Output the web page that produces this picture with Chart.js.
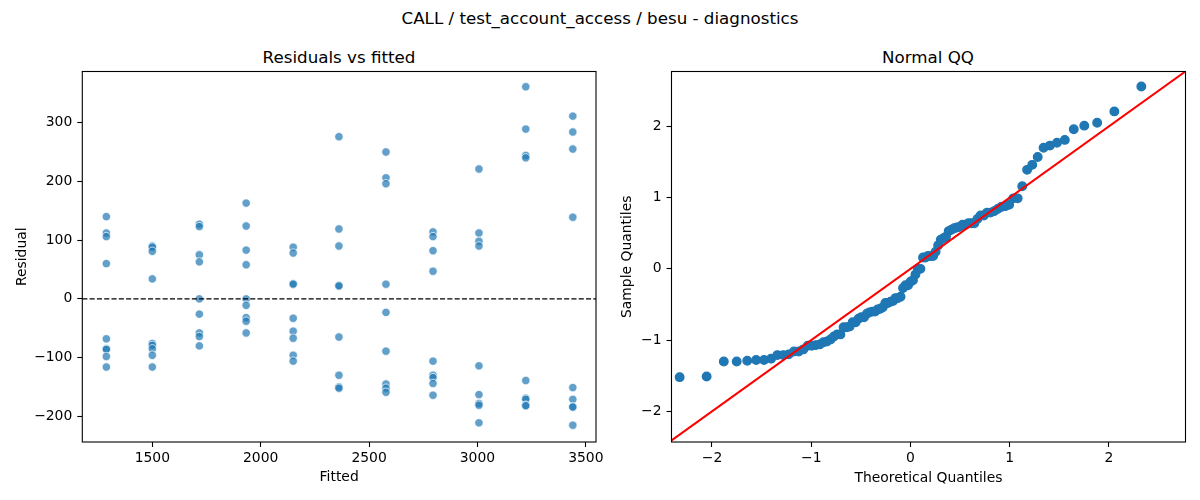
<!DOCTYPE html>
<html lang="en">
<head>
    <meta charset="UTF-8">
    <title>CALL / test_account_access / besu - diagnostics</title>
    <script src="https://cdn.jsdelivr.net/npm/chart.js"></script>
    <style>
        body {
            margin: 0;
            background: #fff;
            font-family: 'DejaVu Sans', sans-serif;
        }
        #wrap {
            position: relative;
            width: 1200px;
            height: 500px;
        }
        canvas {
            position: absolute;
            top: 0;
        }
        .title {
            position: absolute;
            font-size: 16.7px;
            line-height: 20px;
            white-space: nowrap;
            transform: translateX(-50%);
            color: #000;
        }
    </style>
</head>
<body>
<div id="wrap">
    <div class="title" style="left:600px; top:8px;">CALL / test_account_access / besu - diagnostics</div>
    <div class="title" style="left:339px; top:47px;">Residuals vs fitted</div>
    <div class="title" style="left:928px; top:47px;">Normal QQ</div>
    <canvas id="resid" width="640" height="500" style="left:0"></canvas>
    <canvas id="qq" width="600" height="500" style="left:600px"></canvas>
</div>

<script>
    // residuals vs fitted
    const fittedLevels = [1288, 1500, 1717, 1933, 2150, 2361, 2578, 2795, 3007, 3223, 3440];
    const residualsByLevel = [
        [140, 112, 106, 60, -68, -85, -86, -98, -116],
        [90, 88, 81, 34, -76, -79, -85, -96, -116],
        [127, 123, 75, 63, 0, -26, -58, -64, -80],
        [163, 124, 83, 58, 0, -11, -32, -38, -58],
        [88, 78, 26, 25, -33, -55, -67, -96, -106],
        [276, 119, 90, 23, 22, -65, -130, -150, -152],
        [250, 206, 196, 25, -23, -89, -145, -152, -159],
        [114, 106, 82, 47, -106, -130, -134, -144, -164],
        [221, 112, 98, 90, -114, -163, -178, -181, -211],
        [361, 289, 244, 240, -139, -169, -171, -181, -182],
        [311, 284, 255, 139, -151, -171, -184, -184, -215]
    ];
    const residTicksX = [1500, 2000, 2500, 3000, 3500];
    const residTicksY = [-200, -100, 0, 100, 200, 300];

    // normal QQ
    const theoreticalQ = [
        -2.326, -2.054, -1.881, -1.751, -1.645, -1.555, -1.476, -1.405, -1.341, -1.282,
        -1.227, -1.175, -1.126, -1.080, -1.036, -0.994, -0.954, -0.915, -0.878, -0.842,
        -0.806, -0.772, -0.739, -0.706, -0.674, -0.643, -0.613, -0.583, -0.553, -0.524,
        -0.496, -0.468, -0.440, -0.412, -0.385, -0.358, -0.332, -0.305, -0.279, -0.253,
        -0.228, -0.202, -0.176, -0.151, -0.126, -0.100, -0.075, -0.050, -0.025, 0.000,
        0.025, 0.050, 0.075, 0.100, 0.126, 0.151, 0.176, 0.202, 0.228, 0.253,
        0.279, 0.305, 0.332, 0.358, 0.385, 0.412, 0.440, 0.468, 0.496, 0.524,
        0.553, 0.583, 0.613, 0.643, 0.674, 0.706, 0.739, 0.772, 0.806, 0.842,
        0.878, 0.915, 0.954, 0.994, 1.036, 1.080, 1.126, 1.175, 1.227, 1.282,
        1.341, 1.405, 1.476, 1.555, 1.645, 1.751, 1.881, 2.054, 2.326
    ];
    const sampleQ = [
        -1.52, -1.51, -1.30, -1.30, -1.29, -1.28, -1.28, -1.26, -1.21, -1.21,
        -1.20, -1.16, -1.16, -1.13, -1.08, -1.08, -1.07, -1.06, -1.03, -1.02,
        -0.99, -0.95, -0.92, -0.92, -0.82, -0.82, -0.81, -0.75, -0.75, -0.70,
        -0.68, -0.68, -0.63, -0.61, -0.60, -0.60, -0.57, -0.56, -0.54, -0.48,
        -0.48, -0.46, -0.45, -0.41, -0.41, -0.39, -0.27, -0.23, -0.23, -0.18,
        -0.16, -0.08, 0.00, 0.00, 0.16, 0.16, 0.18, 0.18, 0.18, 0.24,
        0.33, 0.41, 0.43, 0.45, 0.53, 0.55, 0.57, 0.58, 0.59, 0.62,
        0.62, 0.64, 0.64, 0.64, 0.70, 0.75, 0.75, 0.79, 0.79, 0.81,
        0.84, 0.87, 0.88, 0.90, 0.99, 0.99, 1.16, 1.39, 1.46, 1.57,
        1.70, 1.73, 1.77, 1.81, 1.96, 2.01, 2.05, 2.21, 2.56
    ];
    const qqTicks = [-2, -1, 0, 1, 2];
    const refLine = [-3, 3];

    const FONT = 'DejaVu Sans';

    const residPoints = [];
    fittedLevels.forEach((f, i) => {
        residualsByLevel[i].forEach(r => residPoints.push({x: f, y: r}));
    });
    const qqPoints = theoreticalQ.map((t, i) => ({x: t, y: sampleQ[i]}));

    // matplotlib-style spines all round, plus optional dashed y=0 line
    const framePlugin = {
        id: 'frame',
        afterDatasetsDraw(chart, args, opts) {
            const {ctx, chartArea: a} = chart;
            ctx.save();
            ctx.strokeStyle = '#000';
            if (opts.zeroLine) {
                const y = chart.scales.y.getPixelForValue(0);
                ctx.setLineDash([5.1, 2.2]);
                ctx.lineWidth = 1.4;
                ctx.beginPath();
                ctx.moveTo(a.left, y);
                ctx.lineTo(a.right, y);
                ctx.stroke();
            }
            ctx.setLineDash([]);
            ctx.lineWidth = 1.1;
            ctx.strokeRect(a.left, a.top, a.right - a.left, a.bottom - a.top);
            ctx.restore();
        }
    };

    function makeAxis(horizontal, min, max, tickVals, size, label, titlePad) {
        return {
            type: 'linear',
            min: min,
            max: max,
            afterBuildTicks: s => { s.ticks = tickVals.map(v => ({value: v})); },
            afterFit: s => {
                if (horizontal) s.height = size; else s.width = size;
                s.paddingLeft = 0; s.paddingRight = 0;
                s.paddingTop = 0; s.paddingBottom = 0;
            },
            grid: {
                display: true,
                drawOnChartArea: false,
                drawTicks: true,
                tickLength: 5,
                tickWidth: 1.1,
                tickColor: '#000'
            },
            border: {display: false},
            ticks: {
                color: '#000',
                padding: horizontal ? 3 : 5,
                maxRotation: 0,
                font: {family: FONT, size: 13.9},
                callback: v => String(v).replace('-', '\u2212')
            },
            title: {
                display: true,
                text: label,
                color: '#000',
                font: {family: FONT, size: 13.9},
                padding: horizontal ? {top: 0, bottom: titlePad} : {top: titlePad, bottom: 0}
            }
        };
    }

    const common = {
        responsive: false,
        animation: false,
        events: [],
        plugins: {legend: {display: false}, tooltip: {enabled: false}}
    };

    new Chart(document.getElementById('resid'), {
        type: 'scatter',
        data: {
            datasets: [{
                data: residPoints,
                backgroundColor: 'rgba(31, 119, 180, 0.7)',
                borderColor: 'rgba(255, 255, 255, 0.7)',
                borderWidth: 1,
                pointRadius: 4.2
            }]
        },
        options: Object.assign({}, common, {
            layout: {padding: {left: 0, top: 71.5, right: 44, bottom: 0}},
            plugins: Object.assign({}, common.plugins, {frame: {zeroLine: true}}),
            scales: {
                x: makeAxis(true, 1177, 3547, residTicksX, 58, 'Fitted', 14.4),
                y: makeAxis(false, -243.6, 387, residTicksY, 82.3, 'Residual', 13.7)
            }
        }),
        plugins: [framePlugin]
    });

    new Chart(document.getElementById('qq'), {
        type: 'scatter',
        data: {
            datasets: [{
                type: 'line',
                data: refLine.map(v => ({x: v, y: v})),
                borderColor: '#ff0000',
                borderWidth: 2.1,
                pointRadius: 0,
                fill: false
            }, {
                data: qqPoints,
                backgroundColor: '#1f77b4',
                borderColor: '#1f77b4',
                borderWidth: 1.3,
                pointRadius: 4.3
            }]
        },
        options: Object.assign({}, common, {
            layout: {padding: {left: 0, top: 71.5, right: 14.5, bottom: 0}},
            plugins: Object.assign({}, common.plugins, {frame: {zeroLine: false}}),
            scales: {
                x: makeAxis(true, -2.408, 2.771, qqTicks, 58, 'Theoretical Quantiles', 13.7),
                y: makeAxis(false, -2.43, 2.77, qqTicks, 71.5, 'Sample Quantiles', 18.7)
            }
        }),
        plugins: [framePlugin]
    });
</script>
</body>
</html>
